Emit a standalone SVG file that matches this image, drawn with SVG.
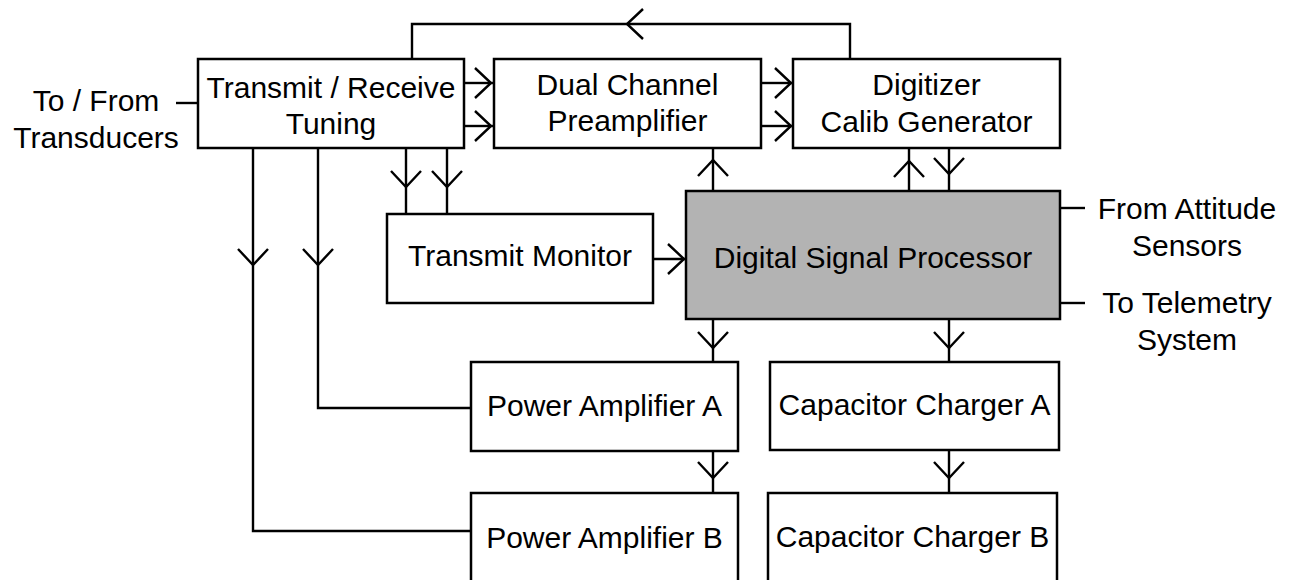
<svg xmlns="http://www.w3.org/2000/svg" xmlns:xlink="http://www.w3.org/1999/xlink" width="1291" height="580" viewBox="0 0 1291 580">
<style>
  .box { fill: #ffffff; stroke: #000000; stroke-width: 2.5; }
  .dsp { fill: #b3b3b3; stroke: #000000; stroke-width: 2.5; }
  .ln { fill: none; stroke: #000000; stroke-width: 2.4; }
  text { font-family: "Liberation Sans", Arial, Helvetica, sans-serif; font-size: 30px; fill: #000000; text-anchor: middle; }
</style>
<defs>
  <path id="chev" d="M -16 -15 L 0 0 L -16 15" fill="none" stroke="#000000" stroke-width="2.4"/>
</defs>
<rect width="1291" height="580" fill="#ffffff"/>

<g id="connectors">
  <!-- external leads -->
  <path class="ln" d="M 176 103 H 198"/>
  <path class="ln" d="M 1060 208 H 1085"/>
  <path class="ln" d="M 1060 303 H 1085"/>
  <!-- feedback Digitizer -> TR -->
  <path class="ln" d="M 850 59 V 24 H 412 V 59"/>
  <use xlink:href="#chev" transform="translate(627,24) rotate(180)"/>
  <!-- TR -> DCP -->
  <path class="ln" d="M 464 83 H 494"/>
  <use xlink:href="#chev" transform="translate(491,83)"/>
  <path class="ln" d="M 464 126 H 494"/>
  <use xlink:href="#chev" transform="translate(491,126)"/>
  <!-- DCP -> Digitizer -->
  <path class="ln" d="M 761 83 H 793"/>
  <use xlink:href="#chev" transform="translate(791,83)"/>
  <path class="ln" d="M 761 126 H 793"/>
  <use xlink:href="#chev" transform="translate(791,126)"/>
  <!-- TR -> Transmit Monitor -->
  <path class="ln" d="M 406 148 V 214"/>
  <use xlink:href="#chev" transform="translate(406,187) rotate(90)"/>
  <path class="ln" d="M 447 148 V 214"/>
  <use xlink:href="#chev" transform="translate(447,187) rotate(90)"/>
  <!-- TR -> PA A / PA B -->
  <path class="ln" d="M 318 148 V 408 H 471"/>
  <use xlink:href="#chev" transform="translate(318,265) rotate(90)"/>
  <path class="ln" d="M 253 148 V 531 H 471"/>
  <use xlink:href="#chev" transform="translate(253,265) rotate(90)"/>
  <!-- TM -> DSP -->
  <path class="ln" d="M 653 259 H 686"/>
  <use xlink:href="#chev" transform="translate(684,259)"/>
  <!-- DSP -> DCP -->
  <path class="ln" d="M 713 191 V 148"/>
  <use xlink:href="#chev" transform="translate(713,160) rotate(-90)"/>
  <!-- DSP <-> Digitizer -->
  <path class="ln" d="M 909 191 V 148"/>
  <use xlink:href="#chev" transform="translate(909,161) rotate(-90)"/>
  <path class="ln" d="M 949 148 V 191"/>
  <use xlink:href="#chev" transform="translate(949,174) rotate(90)"/>
  <!-- DSP -> PA A -> PA B -->
  <path class="ln" d="M 713 319 V 362"/>
  <use xlink:href="#chev" transform="translate(713,348) rotate(90)"/>
  <path class="ln" d="M 713 451 V 493"/>
  <use xlink:href="#chev" transform="translate(713,478) rotate(90)"/>
  <!-- DSP -> CC A -> CC B -->
  <path class="ln" d="M 949 319 V 362"/>
  <use xlink:href="#chev" transform="translate(949,348) rotate(90)"/>
  <path class="ln" d="M 949 450 V 493"/>
  <use xlink:href="#chev" transform="translate(949,478) rotate(90)"/>
</g>

<g id="label-transducers">
  <text x="96" y="111">To / From</text>
  <text x="96" y="148">Transducers</text>
</g>
<g id="label-attitude">
  <text x="1187" y="219">From Attitude</text>
  <text x="1187" y="256">Sensors</text>
</g>
<g id="label-telemetry">
  <text x="1187" y="313">To Telemetry</text>
  <text x="1187" y="350">System</text>
</g>

<g id="node-tr-tuning">
  <rect class="box" x="198" y="59" width="266" height="89"/>
  <text x="331" y="98">Transmit / Receive</text>
  <text x="331" y="134">Tuning</text>
</g>
<g id="node-preamp">
  <rect class="box" x="494" y="59" width="267" height="89"/>
  <text x="627.5" y="95">Dual Channel</text>
  <text x="627.5" y="131">Preamplifier</text>
</g>
<g id="node-digitizer">
  <rect class="box" x="793" y="59" width="267" height="89"/>
  <text x="926.5" y="95">Digitizer</text>
  <text x="926.5" y="132">Calib Generator</text>
</g>
<g id="node-tx-monitor">
  <rect class="box" x="387" y="214" width="266" height="89"/>
  <text x="520" y="266">Transmit Monitor</text>
</g>
<g id="node-dsp">
  <rect class="dsp" x="686" y="191" width="374" height="128"/>
  <text x="873" y="268">Digital Signal Processor</text>
</g>
<g id="node-pa-a">
  <rect class="box" x="471" y="362" width="267" height="89"/>
  <text x="604.5" y="416">Power Amplifier A</text>
</g>
<g id="node-pa-b">
  <rect class="box" x="471" y="493" width="267" height="100"/>
  <text x="604.5" y="548">Power Amplifier B</text>
</g>
<g id="node-cc-a">
  <rect class="box" x="770" y="362" width="289" height="88"/>
  <text x="914.5" y="415">Capacitor Charger A</text>
</g>
<g id="node-cc-b">
  <rect class="box" x="768" y="493" width="289" height="100"/>
  <text x="912.5" y="547">Capacitor Charger B</text>
</g>
</svg>
